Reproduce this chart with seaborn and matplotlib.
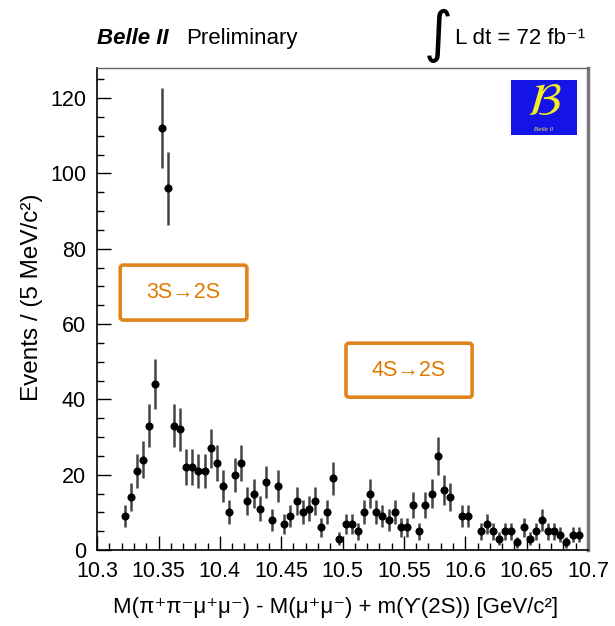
import numpy as np
import pandas as pd
import matplotlib
matplotlib.use("Agg")
import matplotlib.pyplot as plt
import seaborn as sns
from matplotlib.patches import FancyBboxPatch, Rectangle
from matplotlib.ticker import MultipleLocator, FixedLocator

# ---- data (bin centres in GeV/c^2, 5 MeV bins) ----
mass = [10.3225, 10.3275, 10.3325, 10.3375, 10.3425, 10.3475, 10.3525, 10.3575,
        10.3625, 10.3675, 10.3725, 10.3775, 10.3825, 10.3875, 10.3925, 10.3975,
        10.4025, 10.4075, 10.4125, 10.4175, 10.4225, 10.4275, 10.4325, 10.4375,
        10.4425, 10.4475, 10.4525, 10.4575, 10.4625, 10.4675, 10.4725, 10.4775,
        10.4825, 10.4875, 10.4925, 10.4975, 10.5025, 10.5075, 10.5125, 10.5175,
        10.5225, 10.5275, 10.5325, 10.5375, 10.5425, 10.5475, 10.5525, 10.5575,
        10.5625, 10.5675, 10.5725, 10.5775, 10.5825, 10.5875, 10.5975, 10.6025,
        10.6125, 10.6175, 10.6225, 10.6275, 10.6325, 10.6375, 10.6425, 10.6475,
        10.6525, 10.6575, 10.6625, 10.6675, 10.6725, 10.6775, 10.6825, 10.6875,
        10.6925]
events = [9, 14, 21, 24, 33, 44, 112, 96, 33, 32, 22, 22,
          21, 21, 27, 23, 17, 10, 20, 23, 13, 15, 11, 18, 8, 17, 7, 9,
          13, 10, 11, 13, 6, 10, 19, 3, 7, 7, 5, 10, 15, 10, 9,
          8, 10, 6, 6, 12, 5, 12, 15, 25, 16, 14,
          9, 9,
          5, 7, 5, 3, 5, 5, 2, 6, 3, 5, 8, 5, 5, 4, 2, 4, 4]

x_ticks = [10.3, 10.35, 10.4, 10.45, 10.5, 10.55, 10.6, 10.65, 10.7]
x_tick_labels = ["10.3", "10.35", "10.4", "10.45", "10.5", "10.55", "10.6", "10.65", "10.7"]
y_ticks = [0, 20, 40, 60, 80, 100, 120]
y_tick_labels = ["0", "20", "40", "60", "80", "100", "120"]

transition_labels = ["3S→2S", "4S→2S"]

sns.set_theme(style="ticks")
plt.rcParams['font.family'] = ['Liberation Sans', 'DejaVu Sans']
plt.rcParams['text.color'] = 'black'
plt.rcParams['axes.labelcolor'] = 'black'
plt.rcParams['xtick.color'] = 'black'
plt.rcParams['ytick.color'] = 'black'

fig = plt.figure(figsize=(6.15, 6.26), dpi=100)
ax = fig.add_axes([0.158, 0.1214, 0.798, 0.770])

df = pd.DataFrame({"mass": mass, "events": events})
df["err"] = np.sqrt(df["events"])

ax.errorbar(df["mass"], df["events"], yerr=df["err"], fmt='none',
            ecolor='#444444', elinewidth=1.8, capsize=0, zorder=2)
sns.scatterplot(data=df, x="mass", y="events", ax=ax, color='black',
                s=34, edgecolor='black', linewidth=0, zorder=3, legend=False)

ax.set_xlim(10.3, 10.7)
ax.set_ylim(0, 128)
ax.xaxis.set_major_locator(FixedLocator(x_ticks))
ax.set_xticklabels(x_tick_labels)
ax.yaxis.set_major_locator(FixedLocator(y_ticks))
ax.set_yticklabels(y_tick_labels)
ax.xaxis.set_minor_locator(MultipleLocator(0.01))
ax.yaxis.set_minor_locator(MultipleLocator(5))
ax.tick_params(which='major', direction='in', length=10, width=1.0,
               labelsize=15.5, pad=8, top=False, right=False,
               color='black', labelcolor='black')
ax.tick_params(which='minor', direction='in', length=5, width=1.0,
               top=False, right=False, color='black')
ax.set_xlabel("")
ax.set_ylabel("")

for side in ['left', 'bottom']:
    ax.spines[side].set_color('black')
    ax.spines[side].set_linewidth(1.2)
ax.spines['top'].set_color('#666666')
ax.spines['top'].set_linewidth(1.0)
ax.spines['right'].set_color('#777777')
ax.spines['right'].set_linewidth(2.5)

# axis titles
fig.text(0.545, 0.030, "M(π⁺π⁻μ⁺μ⁻) - M(μ⁺μ⁻) + m(ϒ(2S)) [GeV/c²]",
         ha='center', va='center', fontsize=16)
fig.text(0.052, 0.525, "Events / (5 MeV/c²)", ha='center', va='center',
         rotation=90, fontsize=17.5)

# header
fig.text(0.157, 0.939, "Belle II", ha='left', va='center', fontsize=16,
         fontweight='bold', fontstyle='italic')
fig.text(0.302, 0.939, "Preliminary", ha='left', va='center', fontsize=16)
fig.text(0.713, 0.943, "∫", ha='center', va='center', fontsize=40,
         family=['DejaVu Sans'])
fig.text(0.952, 0.939, "L dt = 72 fb⁻¹", ha='right', va='center', fontsize=16)

# transition boxes
orange_edge = '#E0841C'
orange_text = '#E07B00'
boxes = [(0.047, 0.477, 0.258, 0.114), (0.507, 0.317, 0.257, 0.112)]
for (bx, by, bw, bh), lab in zip(boxes, transition_labels):
    ax.add_patch(FancyBboxPatch((bx, by), bw, bh, boxstyle="round,pad=0,rounding_size=0.006",
                                transform=ax.transAxes, facecolor='white',
                                edgecolor=orange_edge, linewidth=2.6, zorder=4))
    ax.text(bx + bw / 2, by + bh / 2, lab, transform=ax.transAxes, ha='center',
            va='center', fontsize=15.5, color=orange_text, zorder=5)

# logo
ax.add_patch(Rectangle((0.843, 0.861), 0.135, 0.114, transform=ax.transAxes,
                       facecolor='#1414E8', edgecolor='none', zorder=4))
ax.text(0.910, 0.928, r"$\mathcal{B}$", transform=ax.transAxes, ha='center',
        va='center', fontsize=33, color='#F2EE20', zorder=5)
ax.text(0.910, 0.872, "Belle II", transform=ax.transAxes, ha='center',
        va='center', fontsize=4.5, color='#E8E060', fontstyle='italic', zorder=5)

fig.savefig("out.png", dpi=100, facecolor='white')
